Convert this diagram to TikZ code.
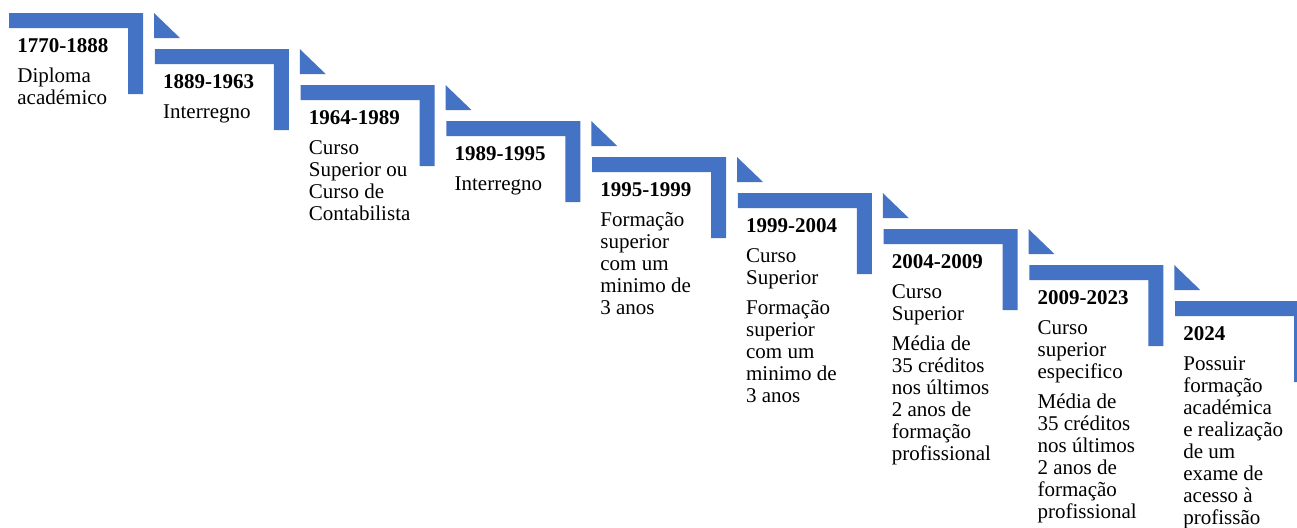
\documentclass[tikz,border=0pt]{standalone}
\usepackage{fontspec}
\setmainfont{Liberation Serif}
\usepackage{tikz}
\usetikzlibrary{positioning}
\definecolor{stepblue}{HTML}{4472C4}

\begin{document}
\begin{tikzpicture}[x=0.5pt, y=-0.5pt]
    % Styles
    \tikzstyle{bar} = [fill=stepblue]
    \tikzstyle{period} = [inner sep=0pt, align=left, font=\fontsize{10.5}{11}\selectfont]
    \useasboundingbox (0,0) rectangle (1297,527);
    \clip (0,0) rectangle (1297,527);

    % Corners of the steps
    \coordinate (c1) at (9,13);
    \coordinate (c2) at (154.75,49);
    \coordinate (c3) at (300.5,85);
    \coordinate (c4) at (446.25,121);
    \coordinate (c5) at (592,157);
    \coordinate (c6) at (737.75,193);
    \coordinate (c7) at (883.5,229);
    \coordinate (c8) at (1029.25,265);
    \coordinate (c9) at (1175,301);

    % Steps
    \fill[bar] (c1) rectangle ++(134,15) (c1) ++(119,0) rectangle ++(15,81) (c1) ++(145,0) -- ++(26,25) -- ++(-26,0) -- cycle;
    \node[period, below right=12.5pt and 4pt of c1] (p1) {\textbf{1770-1888}\\[4pt] Diploma\\ académico};

    \fill[bar] (c2) rectangle ++(134,15) (c2) ++(119,0) rectangle ++(15,81) (c2) ++(145,0) -- ++(26,25) -- ++(-26,0) -- cycle;
    \node[period, below right=12.5pt and 4pt of c2] (p2) {\textbf{1889-1963}\\[4pt] Interregno};

    \fill[bar] (c3) rectangle ++(134,15) (c3) ++(119,0) rectangle ++(15,81) (c3) ++(145,0) -- ++(26,25) -- ++(-26,0) -- cycle;
    \node[period, below right=12.5pt and 4pt of c3] (p3) {\textbf{1964-1989}\\[4pt] Curso\\ Superior ou\\ Curso de\\ Contabilista};

    \fill[bar] (c4) rectangle ++(134,15) (c4) ++(119,0) rectangle ++(15,81) (c4) ++(145,0) -- ++(26,25) -- ++(-26,0) -- cycle;
    \node[period, below right=12.5pt and 4pt of c4] (p4) {\textbf{1989-1995}\\[4pt] Interregno};

    \fill[bar] (c5) rectangle ++(134,15) (c5) ++(119,0) rectangle ++(15,81) (c5) ++(145,0) -- ++(26,25) -- ++(-26,0) -- cycle;
    \node[period, below right=12.5pt and 4pt of c5] (p5) {\textbf{1995-1999}\\[4pt] Formação\\ superior\\ com um\\ minimo de\\ 3 anos};

    \fill[bar] (c6) rectangle ++(134,15) (c6) ++(119,0) rectangle ++(15,81) (c6) ++(145,0) -- ++(26,25) -- ++(-26,0) -- cycle;
    \node[period, below right=12.5pt and 4pt of c6] (p6) {\textbf{1999-2004}\\[4pt] Curso\\ Superior\\[4pt] Formação\\ superior\\ com um\\ minimo de\\ 3 anos};

    \fill[bar] (c7) rectangle ++(134,15) (c7) ++(119,0) rectangle ++(15,81) (c7) ++(145,0) -- ++(26,25) -- ++(-26,0) -- cycle;
    \node[period, below right=12.5pt and 4pt of c7] (p7) {\textbf{2004-2009}\\[4pt] Curso\\ Superior\\[4pt] Média de\\ 35 créditos\\ nos últimos\\ 2 anos de\\ formação\\ profissional};

    \fill[bar] (c8) rectangle ++(134,15) (c8) ++(119,0) rectangle ++(15,81) (c8) ++(145,0) -- ++(26,25) -- ++(-26,0) -- cycle;
    \node[period, below right=12.5pt and 4pt of c8] (p8) {\textbf{2009-2023}\\[4pt] Curso\\ superior\\ especifico\\[4pt] Média de\\ 35 créditos\\ nos últimos\\ 2 anos de\\ formação\\ profissional};

    \fill[bar] (c9) rectangle ++(134,15) (c9) ++(119,0) rectangle ++(15,81);
    \node[period, below right=12.5pt and 4pt of c9] (p9) {\textbf{2024}\\[4pt] Possuir\\ formação\\ académica\\ e realização\\ de um\\ exame de\\ acesso à\\ profissão};
\end{tikzpicture}
\end{document}
